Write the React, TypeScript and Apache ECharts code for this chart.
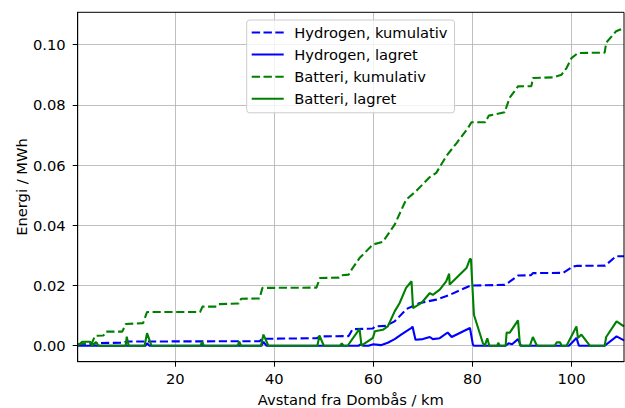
import React, { useEffect, useRef } from "react";
import * as echarts from "echarts";

const seriesNames = [
  "Hydrogen, kumulativ",
  "Hydrogen, lagret",
  "Batteri, kumulativ",
  "Batteri, lagret",
];

const xTicks = [20, 40, 60, 80, 100];
const yTicks = [0, 0.02, 0.04, 0.06, 0.08, 0.1];

const hydrogenCumulative: [number, number][] = [
  [0.3, 0.0003], [3.5, 0.0005], [4, 0.0009], [9.5, 0.001], [10.2, 0.0014],
  [37, 0.0015], [37.6, 0.0023], [48.6, 0.0025], [49.2, 0.0031], [55, 0.0032],
  [55.8, 0.0055], [59.9, 0.0057], [60.3, 0.0064], [62.5, 0.0066], [64.3, 0.0081],
  [66.7, 0.0122], [69.4, 0.0142], [72.7, 0.0153], [75.4, 0.0169], [79.5, 0.0199],
  [80, 0.02], [86.5, 0.0202], [87.3, 0.021], [89.2, 0.0233], [91.8, 0.0234],
  [92.2, 0.0241], [98.3, 0.0242], [100.3, 0.0263], [101, 0.0265], [106.8, 0.0266],
  [109, 0.0297], [110.6, 0.0297],
];

const hydrogenStored: [number, number][] = [
  [0.3, 0], [14, 0], [14.3, 0.0008], [14.8, 0], [37.4, 0], [37.8, 0.0013],
  [38.4, 0], [57, 0], [57.5, 0.0005], [58, 0], [59, 0], [60, 0.0005],
  [61.5, 0.0002], [62.9, 0.001], [64.3, 0.0022], [65.6, 0.0037], [66.6, 0.0048],
  [67.7, 0.0059], [67.9, 0.0064], [68.5, 0.002], [70, 0.0022], [71.4, 0.0029],
  [72, 0.0022], [73.4, 0.0025], [75, 0.0044], [75.8, 0.0029], [79.5, 0.0059],
  [80.1, 0.0003], [80.3, 0], [86.7, 0], [87.3, 0.0008], [88, 0.0005],
  [89.2, 0.0022], [89.8, 0], [99.5, 0], [101, 0.0026], [101.5, 0], [106.7, 0],
  [109.1, 0.0031], [110.6, 0.0018],
];

const batteryCumulative: [number, number][] = [
  [0.3, 0.0005], [3.2, 0.001], [3.8, 0.0033], [5.5, 0.0034], [6, 0.0047],
  [9.3, 0.0047], [10, 0.0072], [13.5, 0.0075], [14.3, 0.0112], [25, 0.0112],
  [25.5, 0.013], [28.3, 0.013], [28.8, 0.0138], [32.8, 0.014], [33.3, 0.0156],
  [37, 0.0157], [37.6, 0.0192], [48.5, 0.0193], [49.2, 0.0225], [53, 0.0226],
  [53.5, 0.0234], [55, 0.0236], [55.8, 0.0258], [57.2, 0.0291], [59.9, 0.0336],
  [61.9, 0.0345], [64.3, 0.0402], [66.6, 0.0485], [68.6, 0.0513], [71.4, 0.056],
  [72.7, 0.0574], [74.7, 0.0629], [76.8, 0.0673], [79.1, 0.0723], [79.8, 0.0742],
  [82.6, 0.0742], [83.3, 0.0764], [86.5, 0.0775], [87.5, 0.0823], [89.2, 0.0861],
  [91.9, 0.0862], [92.2, 0.0889], [96.3, 0.0891], [98, 0.09], [99, 0.0922],
  [100, 0.0955], [101.3, 0.0972], [106.7, 0.0973], [107, 0.1006], [109, 0.1044],
  [110.6, 0.1055],
];

const batteryStored: [number, number][] = [
  [0.3, 0], [1.2, 0.0013], [2.8, 0.0013], [3.2, 0], [4, 0.0012], [4.5, 0],
  [10, 0], [10.2, 0.003], [10.6, 0], [13.8, 0], [14.3, 0.0042], [15.2, 0],
  [25.1, 0], [25.4, 0.0013], [25.8, 0], [32.6, 0], [32.9, 0.0014], [33.3, 0],
  [37.3, 0], [37.8, 0.0037], [38.8, 0], [48.7, 0], [49.1, 0.0034], [50, 0],
  [53.3, 0], [53.6, 0.0008], [54, 0], [54.8, 0], [57.2, 0.0056], [57.6, 0],
  [59.9, 0.0026], [60.3, 0.0048], [61.9, 0.0053], [62.9, 0.0064], [64.3, 0.0114],
  [65.3, 0.0142], [66.6, 0.0192], [67.7, 0.0214], [68, 0.0125], [69.7, 0.0142],
  [71.4, 0.0175], [72, 0.0169], [73.4, 0.0186], [74.7, 0.0214], [75.3, 0.0239],
  [75.4, 0.0203], [78.8, 0.0258], [79.5, 0.0288], [79.7, 0.0288], [80.3, 0.0103],
  [82.1, 0.0009], [82.5, 0], [83, 0.0025], [83.4, 0], [85, 0], [85.2, 0.001],
  [85.5, 0], [86.7, 0], [86.9, 0.0044], [87.5, 0.0043], [89.2, 0.0084],
  [89.6, 0], [91.6, 0], [92.2, 0.0029], [92.9, 0.0004], [93.2, 0], [96.6, 0],
  [97, 0.0011], [97.7, 0.0011], [98, 0], [99, 0], [101, 0.0064], [101.3, 0.0026],
  [102, 0.0037], [103.7, 0], [106.7, 0], [107, 0.0029], [109.1, 0.0081],
  [110.6, 0.0064],
];

const BLUE = "#0000ff";
const GREEN = "#008000";
const FONT = "DejaVu Sans";
const FS = 14.7;

const DASH_ICON = "path://M0,0h8.4v2h-8.4z M11.8,0h8.4v2h-8.4z M23.6,0h8.4v2h-8.4z";
const SOLID_ICON = "path://M0,0h32v2h-32z";

export default function App() {
  const ref = useRef<HTMLDivElement>(null);

  useEffect(() => {
    if (!ref.current) return;
    const chart = echarts.init(ref.current, undefined, { renderer: "svg" });
    const mk = (name: string, data: [number, number][], color: string, dashed: boolean) => ({
      name,
      type: "line",
      data,
      symbol: "none",
      showSymbol: false,
      lineStyle: { color, width: 2.1, type: dashed ? [8.2, 3.6] : "solid" },
      itemStyle: { color },
      z: 2,
    });
    chart.setOption({
      animation: false,
      backgroundColor: "#ffffff",
      textStyle: { fontFamily: FONT },
      grid: {
        left: 77.7,
        right: 1,
        top: 12.3,
        bottom: 46.3,
        containLabel: false,
        outerBoundsMode: "none",
        show: true,
        borderColor: "#000",
        borderWidth: 1,
        backgroundColor: "transparent",
        z: 3,
      },
      legend: {
        orient: "vertical",
        left: 246.7,
        top: 20,
        itemWidth: 32,
        itemHeight: 2,
        itemGap: 7.1,
        padding: [5, 7, 6.5, 5],
        backgroundColor: "rgba(255,255,255,0.8)",
        borderColor: "#cccccc",
        borderWidth: 1,
        borderRadius: 3,
        itemStyle: { borderWidth: 0 },
        textStyle: { fontSize: FS, fontFamily: FONT, color: "#000", padding: [0, 0, 0, 5.5] },
        data: [
          { name: seriesNames[0], icon: DASH_ICON },
          { name: seriesNames[1], icon: SOLID_ICON },
          { name: seriesNames[2], icon: DASH_ICON },
          { name: seriesNames[3], icon: SOLID_ICON },
        ],
      },
      xAxis: {
        type: "value",
        min: 0.3,
        max: 110.6,
        name: "Avstand fra Dombås / km",
        nameLocation: "middle",
        nameGap: 30,
        nameMoveOverlap: false,
        nameTextStyle: { fontSize: FS, lineHeight: 15, color: "#000", fontFamily: FONT },
        axisLine: { show: true, onZero: false, lineStyle: { color: "#000", width: 1 } },
        axisTick: { show: true, inside: false, length: 5, customValues: xTicks, lineStyle: { color: "#000" } },
        axisLabel: { customValues: xTicks, margin: 9, fontSize: FS, color: "#000", fontFamily: FONT },
        splitLine: { show: true, lineStyle: { color: "#b0b0b0", width: 0.8 } },
      },
      yAxis: {
        type: "value",
        min: -0.0053,
        max: 0.1107,
        name: "Energi / MWh",
        nameLocation: "middle",
        nameGap: 48.6,
        nameMoveOverlap: false,
        nameRotate: 90,
        nameTextStyle: { fontSize: FS, lineHeight: 15, color: "#000", fontFamily: FONT },
        axisLine: { show: true, onZero: false, lineStyle: { color: "#000", width: 1 } },
        axisTick: { show: true, inside: false, length: 5, customValues: yTicks, lineStyle: { color: "#000" } },
        axisLabel: {
          customValues: yTicks,
          margin: 12,
          fontSize: FS,
          color: "#000",
          fontFamily: FONT,
          formatter: (v: number) => v.toFixed(2),
        },
        splitLine: { show: true, lineStyle: { color: "#b0b0b0", width: 0.8 } },
      },
      series: [
        mk(seriesNames[0], hydrogenCumulative, BLUE, true),
        mk(seriesNames[1], hydrogenStored, BLUE, false),
        mk(seriesNames[2], batteryCumulative, GREEN, true),
        mk(seriesNames[3], batteryStored, GREEN, false),
      ],
    });
    return () => chart.dispose();
  }, []);

  return <div ref={ref} style={{ width: 625, height: 408, position: "absolute", left: 0, top: 0 }} />;
}
